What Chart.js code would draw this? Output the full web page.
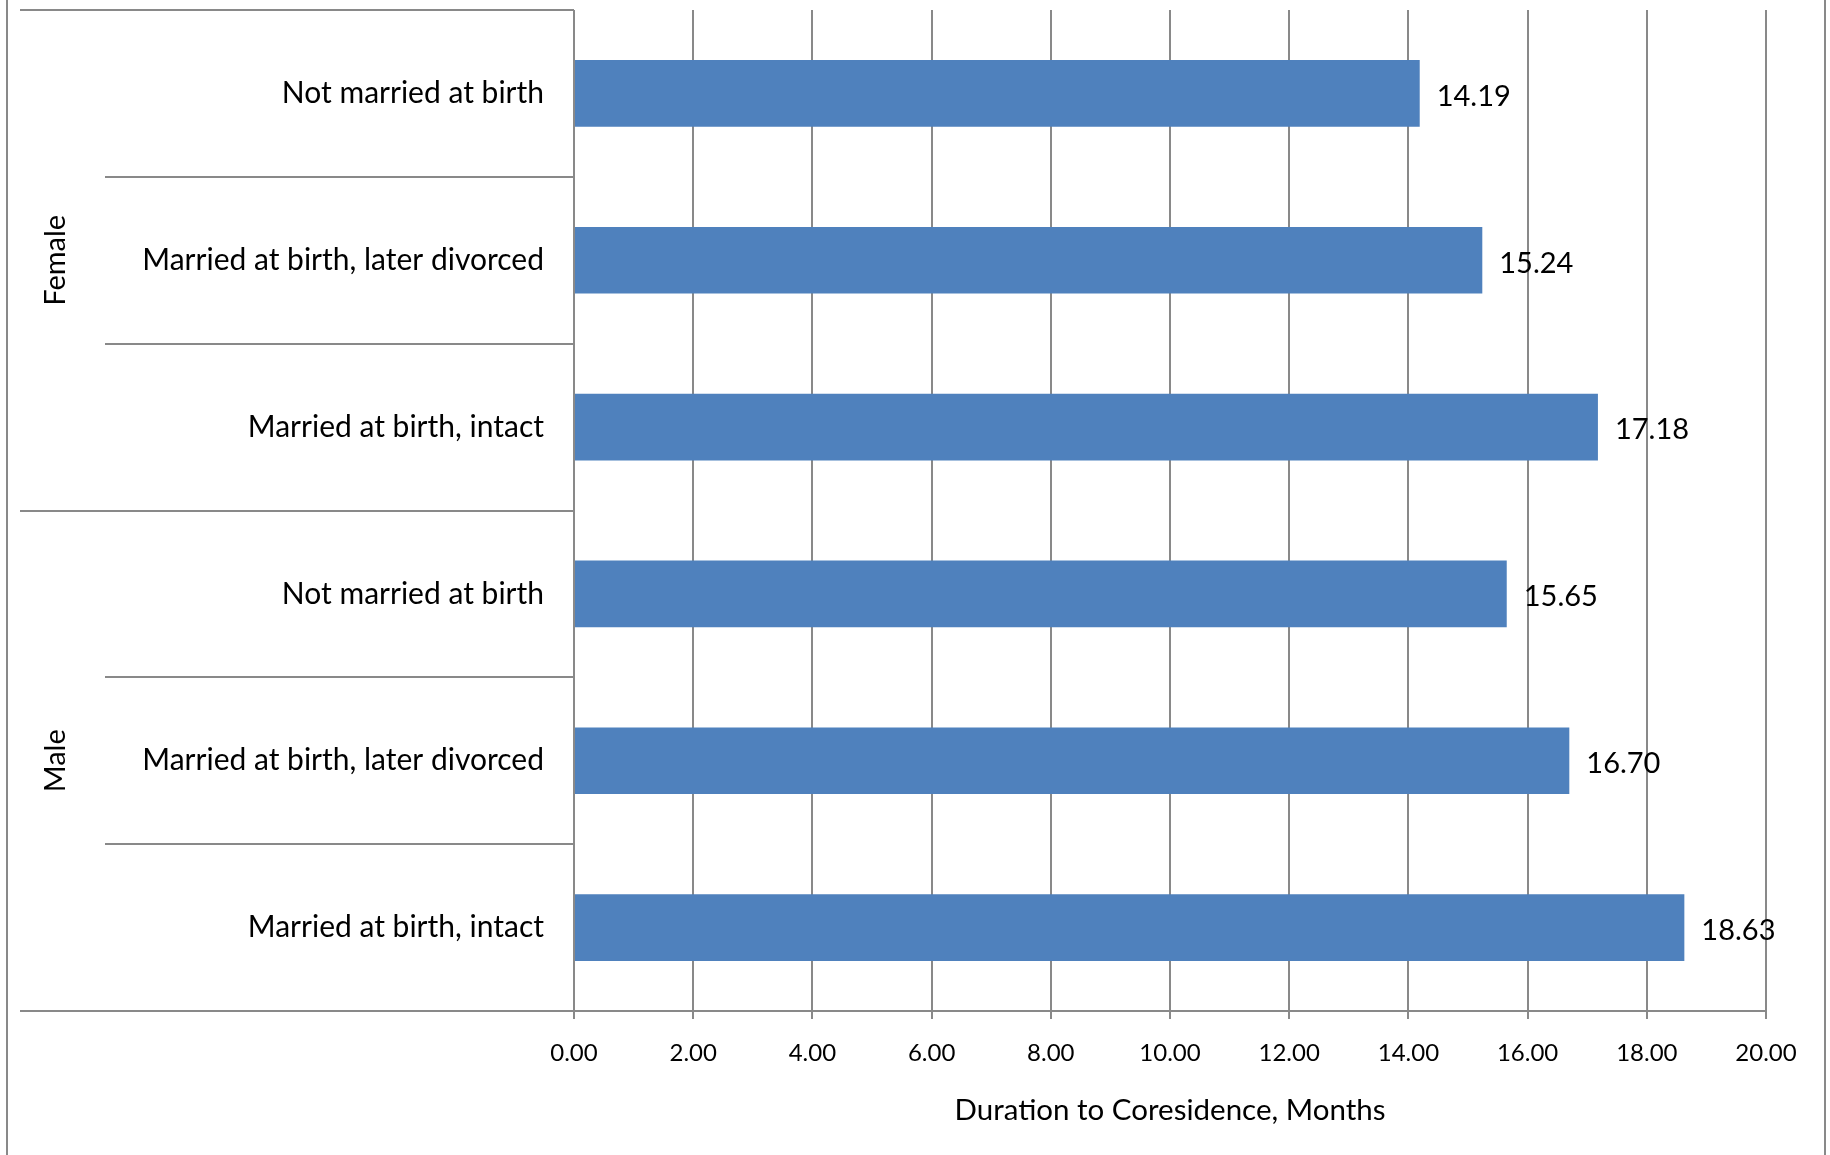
<!DOCTYPE html>
<html>
<head>
<meta charset="utf-8">
<title>Duration to Coresidence</title>
<script src="https://cdn.jsdelivr.net/npm/chart.js@4.4.1/dist/chart.umd.min.js"></script>
<style>
    html, body { margin: 0; padding: 0; background: #fff; }
    #wrap { width: 1830px; height: 1155px; position: relative; }
</style>
</head>
<body>
<div id="wrap"><canvas id="coresidenceChart"></canvas></div>
<script>
// Months until coresidence, by sex and marital status at birth (top to bottom)
const groups = ['Female', 'Male'];
const groupOfCategory = [0, 0, 0, 1, 1, 1];
const categories = [
    'Not married at birth',
    'Married at birth, later divorced',
    'Married at birth, intact',
    'Not married at birth',
    'Married at birth, later divorced',
    'Married at birth, intact'
];
const durations = [14.19, 15.24, 17.18, 15.65, 16.70, 18.63];
const xMin = 0;
const xMax = 20;
const xStep = 2;

const barBlue = '#4f81bd';
const lineGray = '#898989';
const fontFamily = 'Lato, "Open Sans", sans-serif';

// frame, group dividers, group names and value labels
const framePlugin = {
    id: 'framePlugin',
    afterDraw(chart) {
        const { ctx, chartArea, scales: { y } } = chart;
        const line = (x1, y1, x2, y2) => {
            ctx.beginPath();
            ctx.moveTo(x1, y1);
            ctx.lineTo(x2, y2);
            ctx.stroke();
        };
        ctx.save();
        ctx.strokeStyle = lineGray;
        ctx.lineWidth = 2;

        line(7, 0, 7, chart.height);
        line(1825, 0, 1825, chart.height);
        line(20, chartArea.top, chartArea.left, chartArea.top);
        line(20, chartArea.bottom, chartArea.right, chartArea.bottom);

        for (let i = 1; i < categories.length; i++) {
            const yy = Math.round(y.getPixelForValue(i - 0.5));
            const newGroup = groupOfCategory[i] !== groupOfCategory[i - 1];
            line(newGroup ? 20 : 105, yy, chartArea.left, yy);
        }

        ctx.fillStyle = '#000';
        ctx.font = '29px ' + fontFamily;
        ctx.textAlign = 'center';
        ctx.textBaseline = 'middle';
        groups.forEach((name, g) => {
            const idx = groupOfCategory.map((v, i) => v === g ? i : -1).filter(i => i >= 0);
            const mid = (idx[0] + idx[idx.length - 1]) / 2;
            ctx.save();
            ctx.translate(56, y.getPixelForValue(mid));
            ctx.rotate(-Math.PI / 2);
            ctx.fillText(name, 0, 0);
            ctx.restore();
        });

        ctx.textAlign = 'left';
        const meta = chart.getDatasetMeta(0);
        meta.data.forEach((bar, i) => {
            ctx.fillText(durations[i].toFixed(2), bar.x + 17, bar.y + 3);
        });
        ctx.restore();
    }
};

new Chart(document.getElementById('coresidenceChart'), {
    type: 'bar',
    data: {
        labels: categories,
        datasets: [{
            label: 'Duration',
            data: durations,
            backgroundColor: barBlue,
            borderWidth: 0,
            barPercentage: 0.4,
            categoryPercentage: 1.0
        }]
    },
    options: {
        indexAxis: 'y',
        responsive: true,
        maintainAspectRatio: false,
        animation: false,
        layout: { padding: { top: 10, right: 64, left: 0, bottom: 0 } },
        plugins: {
            legend: { display: false },
            tooltip: { enabled: false }
        },
        scales: {
            x: {
                min: xMin,
                max: xMax,
                afterFit: s => {
                    s.height = 144;
                    s.paddingLeft = 0;
                    s.paddingRight = 0;
                },
                border: { display: false },
                grid: { color: lineGray, lineWidth: 2, tickLength: 8 },
                ticks: {
                    stepSize: xStep,
                    color: '#000',
                    padding: 20,
                    maxRotation: 0,
                    font: { family: fontFamily, size: 24 },
                    callback: v => Number(v).toFixed(2)
                },
                title: {
                    display: true,
                    text: 'Duration to Coresidence, Months',
                    color: '#000',
                    font: { family: fontFamily, size: 29.5 },
                    padding: { top: 0, bottom: 27 }
                }
            },
            y: {
                afterFit: s => {
                    s.width = 574;
                    s.paddingTop = 0;
                    s.paddingBottom = 0;
                },
                border: { display: false },
                grid: { display: false, drawTicks: false },
                ticks: {
                    color: '#000',
                    padding: 30,
                    font: { family: fontFamily, size: 30 }
                }
            }
        }
    },
    plugins: [framePlugin]
});
</script>
</body>
</html>
